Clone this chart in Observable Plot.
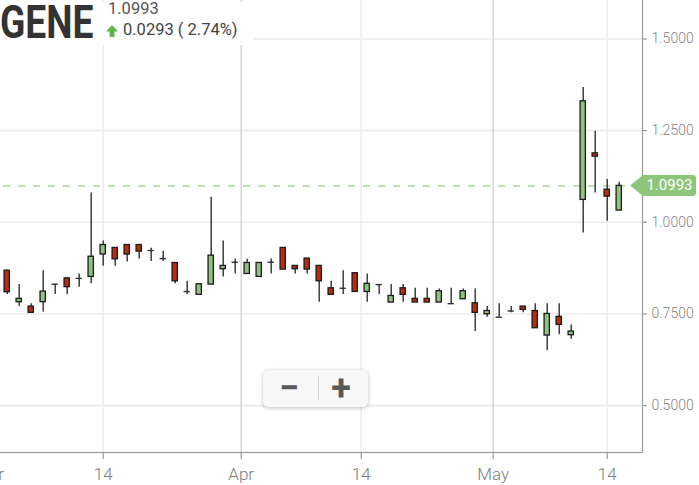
<!DOCTYPE html>
<html>
<head>
<meta charset="utf-8">
<script src="https://cdn.jsdelivr.net/npm/d3@7"></script>
<script src="https://cdn.jsdelivr.net/npm/@observablehq/plot@0.6"></script>
<style>
  html, body { margin: 0; padding: 0; background: #fff; }
  #wrap { position: relative; width: 699px; height: 485px; overflow: hidden; font-family: Roboto, "Noto Sans", sans-serif; }
  #wrap > svg.chart { position: absolute; left: 0; top: 0; }
  #head { position: absolute; left: 0; top: 2px; width: 253px; height: 43px; background: #fff; }
  #sym { position: absolute; left: 0; top: 0; font-size: 46.5px; line-height: 40px; font-weight: 700; color: #333;
         transform: scaleX(0.8); transform-origin: 0 0; white-space: nowrap; }
  #last { position: absolute; left: 108px; top: 0; font-size: 16.5px; line-height: 14px; color: #555; white-space: nowrap; }
  #chg { position: absolute; left: 123px; top: 21px; font-size: 16.5px; line-height: 14px; color: #444; white-space: nowrap; }
  #head svg.arrow { position: absolute; left: 106px; top: 23px; }
  #tag { position: absolute; left: 630px; width: 66px; height: 21px; }
  #tag svg { position: absolute; left: 0; top: 0; }
  #tag span { position: absolute; left: 13px; right: 0; top: 0; height: 21px; line-height: 21px; text-align: center;
              color: #fff; font-size: 15px; }
  #zoom { position: absolute; left: 263px; top: 370px; width: 105px; height: 37px; background: #f8f8f8;
          border-radius: 5px; box-shadow: 0 1px 4px rgba(0,0,0,0.25); }
  #zoom .btn { position: absolute; top: 0; width: 40px; height: 37px; line-height: 37px; text-align: center;
               font-size: 36px; font-weight: 700; color: #585858; }
  #zoom .sep { position: absolute; left: 55px; top: 6px; width: 1px; height: 24px; background: #cfcfcf; }
</style>
</head>
<body>
<div id="wrap">
  <div id="head">
    <div id="sym">GENE</div>
    <div id="last"></div>
    <svg class="arrow" width="12" height="12" viewBox="0 0 12 12"><path d="M6,0 L12,6.5 H8.5 V12 H3.5 V6.5 H0 Z" fill="#5db548"/></svg>
    <div id="chg"></div>
  </div>
  <div id="tag">
    <svg width="66" height="21" viewBox="0 0 66 21"><path d="M0,10.5 L13,0 H63 Q66,0 66,3 V18 Q66,21 63,21 H13 Z" fill="#8cc57b"/></svg>
    <span></span>
  </div>
  <div id="zoom">
    <div class="btn" style="left:6px">−</div>
    <div class="sep"></div>
    <div class="btn" style="left:58px">+</div>
  </div>
</div>
<script>
// Daily OHLC for GENE, one entry per trading session (Mar 4 – May 15)
const open  = [0.868, 0.782, 0.770, 0.782, 0.831, 0.847, 0.847, 0.851, 0.912, 0.930,
               0.938, 0.938, 0.923, 0.901, 0.889, 0.811, 0.802, 0.830, 0.872, 0.891,
               0.859, 0.851, 0.891, 0.930, 0.881, 0.901, 0.881, 0.820, 0.820, 0.861,
               0.810, 0.830, 0.781, 0.820, 0.791, 0.791, 0.781, 0.778, 0.790, 0.779,
               0.749, 0.741, 0.758, 0.770, 0.758, 0.691, 0.742, 0.692, 1.061, 1.188,
               1.089, 1.032];
const high  = [0.870, 0.830, 0.778, 0.868, 0.831, 0.849, 0.859, 1.080, 0.949, 0.931,
               0.939, 0.939, 0.929, 0.921, 0.890, 0.839, 0.831, 1.068, 0.949, 0.900,
               0.899, 0.889, 0.900, 0.930, 0.881, 0.901, 0.881, 0.839, 0.868, 0.861,
               0.859, 0.830, 0.830, 0.830, 0.820, 0.820, 0.818, 0.820, 0.818, 0.818,
               0.770, 0.778, 0.770, 0.770, 0.778, 0.778, 0.778, 0.720, 1.368, 1.248,
               1.117, 1.109];
const low   = [0.803, 0.770, 0.752, 0.755, 0.803, 0.803, 0.823, 0.832, 0.880, 0.880,
               0.892, 0.900, 0.893, 0.893, 0.832, 0.803, 0.802, 0.830, 0.851, 0.859,
               0.859, 0.851, 0.859, 0.871, 0.859, 0.859, 0.782, 0.802, 0.803, 0.810,
               0.782, 0.803, 0.781, 0.782, 0.781, 0.781, 0.781, 0.778, 0.790, 0.702,
               0.741, 0.741, 0.753, 0.753, 0.711, 0.650, 0.693, 0.681, 0.971, 1.080,
               1.003, 1.032];
const close = [0.809, 0.791, 0.753, 0.811, 0.831, 0.823, 0.847, 0.906, 0.938, 0.899,
               0.912, 0.920, 0.923, 0.901, 0.839, 0.811, 0.831, 0.909, 0.881, 0.891,
               0.889, 0.889, 0.891, 0.871, 0.872, 0.871, 0.839, 0.802, 0.820, 0.810,
               0.832, 0.830, 0.799, 0.802, 0.781, 0.781, 0.812, 0.778, 0.812, 0.753,
               0.758, 0.741, 0.758, 0.761, 0.711, 0.750, 0.720, 0.702, 1.330, 1.179,
               1.070, 1.0993];

// Price axis ticks
const yTicks = [0.5, 0.75, 1.0, 1.25, 1.5];

// Time axis ticks, placed on the session index (month starts fall between sessions)
const tickAt     = [-1.5, 8, 19.5, 29.5, 40.5, 50];
const tickLabels = ["Mar", "14", "Apr", "14", "May", "14"];

const symbol = "GENE";

const candles = open.map((o, i) => ({i, open: o, high: high[i], low: low[i], close: close[i]}));
const isFlat = d => Math.abs(d.close - d.open) < 0.004;
const rising  = candles.filter(d => !isFlat(d) && d.close > d.open);
const falling = candles.filter(d => !isFlat(d) && d.close < d.open);
const flat    = candles.filter(isFlat);
const ticks = tickAt.map((at, k) => ({at, label: tickLabels[k], month: isNaN(+tickLabels[k])}));

const last = close[close.length - 1];
const prev = close[close.length - 2];
const change = last - prev;

const half = 0.22;
const upFill = "#8cc57b", downFill = "#bd2a0f";
const fmt4 = d3.format(".4f");

const chart = Plot.plot({
  width: 699,
  height: 485,
  marginTop: 0,
  marginRight: 57,
  marginBottom: 33,
  marginLeft: 0,
  x: {type: "linear", domain: [-0.558, 52.94], axis: null},
  y: {type: "linear", domain: [0.372, 1.605], axis: null},
  style: {background: "transparent", fontFamily: "Roboto, 'Noto Sans', sans-serif", overflow: "visible"},
  marks: [
    // grid
    Plot.ruleY(yTicks, {stroke: "#ebebeb", strokeWidth: 1.6}),
    Plot.ruleX(ticks.filter(t => !t.month), {x: "at", stroke: "#ececec", strokeWidth: 1.5}),
    Plot.ruleX(ticks.filter(t => t.month), {x: "at", stroke: "#d8d8d8", strokeWidth: 1.6}),
    // last price guide
    Plot.ruleY([last], {stroke: "#a8d69a", strokeWidth: 1.5, strokeDasharray: "7,8", strokeDashoffset: -3}),
    // right and bottom axis lines
    Plot.frame({stroke: "#9a9a9a", strokeWidth: 1.2, insetLeft: -3, insetTop: -3}),
    Plot.ruleY(yTicks, {insetLeft: 642, insetRight: -5, stroke: "#9a9a9a", strokeWidth: 1.2}),
    Plot.ruleX(ticks, {x: "at", insetTop: 452, insetBottom: -7, stroke: "#9a9a9a", strokeWidth: 1.2}),
    // candles
    Plot.ruleX(candles, {x: "i", y1: "low", y2: "high", stroke: "#2e3133", strokeWidth: 1.4}),
    Plot.rect(rising, {x1: d => d.i - half, x2: d => d.i + half, y1: "open", y2: "close",
                       fill: upFill, stroke: "#1c1c1c", strokeWidth: 1.3}),
    Plot.rect(falling, {x1: d => d.i - half, x2: d => d.i + half, y1: "open", y2: "close",
                        fill: downFill, stroke: "#1c1c1c", strokeWidth: 1.3}),
    Plot.ruleY(flat, {y: "open", x1: d => d.i - 0.26, x2: d => d.i + 0.26, stroke: "#2e3133", strokeWidth: 1.4}),
    // axis labels
    Plot.text(yTicks, {y: d => d, text: d => fmt4(d), frameAnchor: "right", textAnchor: "start", dx: 9,
                       fontSize: 14, fontWeight: 300, fill: "#858585"}),
    Plot.text(ticks, {x: "at", text: "label", frameAnchor: "bottom", lineAnchor: "top", dy: 15,
                      fontSize: 17, fontWeight: 300, fill: "#7d7d7d"})
  ]
});
chart.classList.add("chart");

const wrap = document.getElementById("wrap");
wrap.insertBefore(chart, wrap.firstChild);

document.getElementById("sym").textContent = symbol;
document.getElementById("last").textContent = fmt4(last);
document.getElementById("chg").textContent = `${fmt4(change)} ( ${(change / prev * 100).toFixed(2)}%)`;

const tag = document.getElementById("tag");
tag.style.top = (chart.scale("y").apply(last) - 10.5) + "px";
tag.querySelector("span").textContent = fmt4(last);
</script>
</body>
</html>
